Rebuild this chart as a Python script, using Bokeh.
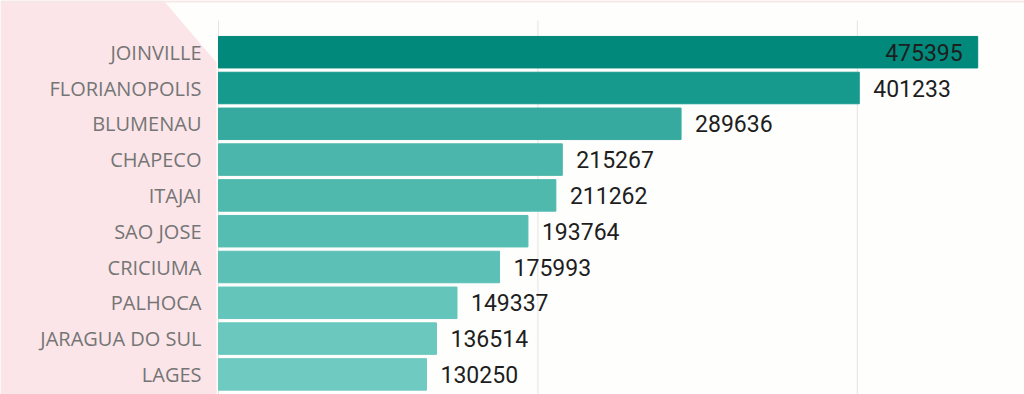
import pandas as pd
from bokeh.plotting import figure
from bokeh.models import Range1d, PolyAnnotation, ColumnDataSource
from bokeh.core.properties import value
from bokeh.embed import file_html
from bokeh.resources import INLINE

cities = ["JOINVILLE", "FLORIANOPOLIS", "BLUMENAU", "CHAPECO", "ITAJAI",
          "SAO JOSE", "CRICIUMA", "PALHOCA", "JARAGUA DO SUL", "LAGES"]
population = [475395, 401233, 289636, 215267, 211262,
              193764, 175993, 149337, 136514, 130250]
bar_colors = ["#01897b", "#179a8e", "#36aa9f", "#4bb6ab", "#4fb9ae",
              "#56bdb2", "#5cc0b6", "#64c5bb", "#6ac8be", "#6fcbc1"]
grid_ticks = [0, 200000, 400000]

df = pd.DataFrame({"city": cities, "pop": population, "color": bar_colors})
df["pos"] = range(len(df))
df["label"] = df["pop"].astype(str)
df["zero"] = 0
inside = df["pop"] == df["pop"].max()
df["align"] = ["right" if i else "left" for i in inside]
df["xoff"] = [-15 if i else 14 for i in inside]
src = ColumnDataSource(df)

W, H = 1024, 394
scale = 0.001597          # px per inhabitant
x0_px = 218               # where zero sits
row_px = 35.8
first_px = 51.7
x_start = -x0_px / scale
x_end = (W - x0_px) / scale
y_top = -first_px / row_px
y_bot = (H - first_px) / row_px
grid_top = (20 - first_px) / row_px

p = figure(width=W, height=H, output_backend="svg", toolbar_location=None,
           x_range=Range1d(x_start, x_end), y_range=Range1d(y_bot, y_top),
           min_border=0, min_border_left=0, min_border_right=0,
           min_border_top=0, min_border_bottom=0)
p.outline_line_color = None
p.background_fill_color = "#fefefd"
p.border_fill_color = "#fefefd"
p.xaxis.visible = False
p.yaxis.visible = False
p.xgrid.grid_line_color = None
p.ygrid.grid_line_color = None

# decorative pink panel (screen y measured from the bottom here)
pink = PolyAnnotation(xs=[0, 163, 216, 216, 0], ys=[H, H, H - 62, 0, 0],
                      xs_units="screen", ys_units="screen",
                      fill_color="#fbe5e8", fill_alpha=1.0, line_color=None,
                      level="underlay")
p.add_layout(pink)
top_strip = PolyAnnotation(xs=[0, W, W, 0], ys=[H, H, H - 2, H - 2],
                           xs_units="screen", ys_units="screen",
                           fill_color="#f7e7e7", fill_alpha=1.0, line_color=None,
                           level="underlay")
p.add_layout(top_strip)

# grid lines
p.segment(x0=grid_ticks, x1=grid_ticks, y0=[grid_top] * len(grid_ticks),
          y1=[y_bot] * len(grid_ticks), line_color="#e4e4e4", line_width=1)

p.hbar(y="pos", right="pop", left=0, height=0.88, color="color", source=src)

p.text(x="pop", y="pos", text="label", source=src, text_align="align",
       x_offset="xoff", text_baseline="middle",
       text_font=value("Roboto"), text_font_size="23px", text_color="#1e1e1e")

p.text(x="zero", y="pos", text="city", source=src, text_align="right",
       x_offset=-17, text_baseline="middle",
       text_font=value("Open Sans"), text_font_size="20px", text_color="#757575")

open("out.html", "w").write(file_html(p, INLINE))
